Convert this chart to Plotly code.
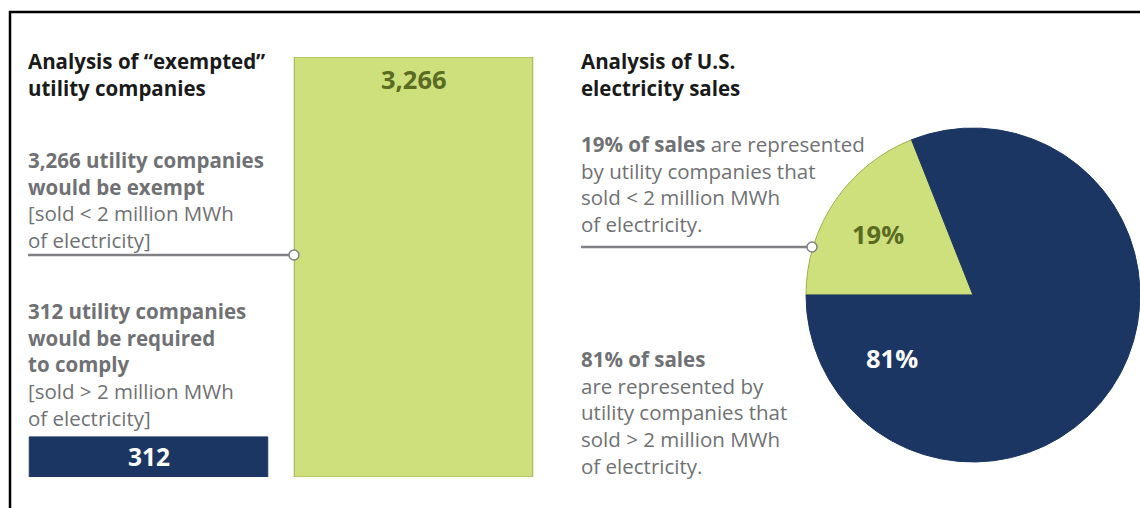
import plotly.graph_objects as go

# ---------------- data ----------------
bar_categories = ["Required to comply", "Exempt"]
bar_values = [312, 3266]

pie_labels = ["Sold < 2 million MWh", "Sold > 2 million MWh"]
pie_values = [19, 81]

# ---------------- styling ----------------
W, H = 1140, 508
NAVY = "#1c3664"
GREEN = "#cde07c"
GREEN_LINE = "#9fb04a"
OLIVE = "#5b6b23"
GRAY = "#707174"
BLACK = "#1a1a1a"
FONT = "Open Sans"
FS = 20.5
LABEL_FS = 25.5


def px(x):
    return x / W


def py(y):
    return 1 - y / H


fig = go.Figure()

fig.add_trace(go.Bar(
    x=bar_categories,
    y=bar_values,
    width=0.9,
    marker=dict(color=[NAVY, GREEN], line=dict(color=[NAVY, GREEN_LINE], width=1)),
    hoverinfo="x+y",
    showlegend=False,
    xaxis="x", yaxis="y",
))

fig.add_trace(go.Pie(
    labels=pie_labels,
    values=pie_values,
    sort=False,
    direction="clockwise",
    rotation=-90,
    marker=dict(colors=[GREEN, NAVY], line=dict(color=[GREEN_LINE, NAVY], width=1)),
    textinfo="none",
    showlegend=False,
    domain=dict(x=[px(806), 1.0], y=[py(463), py(127)]),
))

annotations = []


def block(x, y_mid, lines, color, bold=False):
    annotations.append(dict(
        x=px(x), y=py(y_mid), xref="paper", yref="paper",
        xanchor="left", yanchor="middle", align="left", borderpad=0, showarrow=False,
        text="<br>".join(lines),
        font=dict(family=FONT, size=FS, color=color, weight=700 if bold else 400),
    ))


n_req, n_ex = bar_values
p_small, p_big = pie_values

block(27, 74.5, ["Analysis of \u201cexempted\u201d", "utility companies"], BLACK, bold=True)
block(27, 200.5,
      [f"<b>{n_ex:,} utility companies</b>", "<b>would be exempt</b>",
       "[sold &lt; 2 million MWh", "of electricity]"], GRAY)
block(27, 364,
      [f"<b>{n_req:,} utility companies</b>", "<b>would be required</b>", "<b>to comply</b>",
       "[sold &gt; 2 million MWh", "of electricity]"], GRAY)
block(580, 74.5, ["Analysis of U.S.", "electricity sales"], BLACK, bold=True)
block(580, 184,
      [f"<b>{p_small}% of sales</b> are represented", "by utility companies that",
       "sold &lt; 2 million MWh", "of electricity."], GRAY)
block(580, 412,
      [f"<b>{p_big}% of sales</b>", "are represented by", "utility companies that",
       "sold &gt; 2 million MWh", "of electricity."], GRAY)

# bar value labels
annotations.append(dict(
    x=bar_categories[1], y=bar_values[1], xref="x", yref="y", xanchor="center", yanchor="top",
    yshift=-3, showarrow=False, text=f"{bar_values[1]:,}",
    font=dict(family=FONT, size=LABEL_FS, color=OLIVE, weight=700),
))
annotations.append(dict(
    x=bar_categories[0], y=bar_values[0] / 2, xref="x", yref="y", xanchor="center",
    yanchor="middle", showarrow=False, text=f"{bar_values[0]:,}",
    font=dict(family=FONT, size=LABEL_FS - 1, color="white", weight=700),
))

# pie labels
annotations.append(dict(
    x=px(878), y=py(234), xref="paper", yref="paper", xanchor="center", yanchor="middle",
    showarrow=False, text=f"{pie_values[0]}%",
    font=dict(family=FONT, size=LABEL_FS, color=OLIVE, weight=700),
))
annotations.append(dict(
    x=px(892), y=py(358), xref="paper", yref="paper", xanchor="center", yanchor="middle",
    showarrow=False, text=f"{pie_values[1]}%",
    font=dict(family=FONT, size=LABEL_FS, color="white", weight=700),
))

LINE_GRAY = "#808184"
shapes = [
    # frame
    dict(type="line", xref="paper", yref="paper", x0=px(9), x1=1.01, y0=py(12), y1=py(12),
         line=dict(color="black", width=2.5)),
    dict(type="line", xref="paper", yref="paper", x0=px(10), x1=px(10), y0=py(11), y1=-0.01,
         line=dict(color="black", width=2.5)),
    # connectors
    dict(type="line", xref="paper", yref="paper", x0=px(28), x1=px(290), y0=py(255), y1=py(255),
         line=dict(color=LINE_GRAY, width=2.5)),
    dict(type="circle", xref="paper", yref="paper", x0=px(289), x1=px(299), y0=py(250), y1=py(260),
         fillcolor="white", line=dict(color=LINE_GRAY, width=1.5)),
    dict(type="line", xref="paper", yref="paper", x0=px(581), x1=px(808), y0=py(247), y1=py(247),
         line=dict(color=LINE_GRAY, width=2.5)),
    dict(type="circle", xref="paper", yref="paper", x0=px(807), x1=px(817), y0=py(242), y1=py(252),
         fillcolor="white", line=dict(color=LINE_GRAY, width=1.5)),
]

fig.update_layout(
    width=W, height=H,
    margin=dict(l=0, r=0, t=0, b=0),
    paper_bgcolor="white", plot_bgcolor="white",
    xaxis=dict(domain=[px(16), px(546)], range=[-0.5, 1.5], visible=False, fixedrange=True),
    yaxis=dict(domain=[py(477), py(57)], range=[0, bar_values[1]], visible=False, fixedrange=True),
    annotations=annotations,
    shapes=shapes,
    font=dict(family=FONT),
    showlegend=False,
)

fig.write_html(
    "out.html",
    config={"displayModeBar": False},
    post_script="document.body.style.margin='0';document.documentElement.style.overflow='hidden';",
)
